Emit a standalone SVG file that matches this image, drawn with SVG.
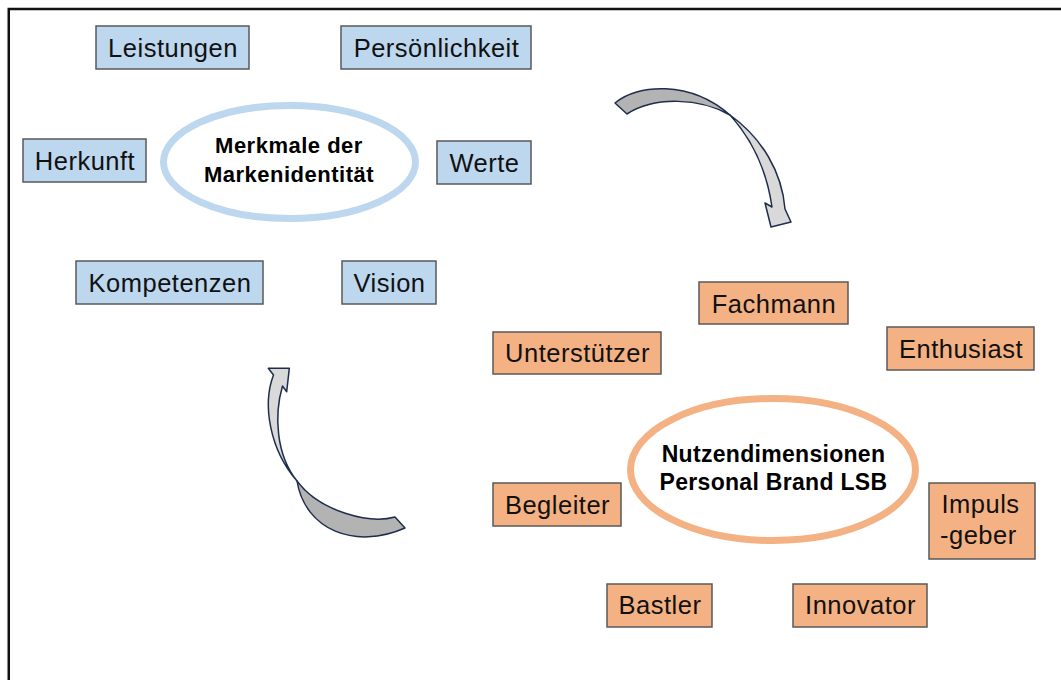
<svg xmlns="http://www.w3.org/2000/svg" width="1061" height="680" viewBox="0 0 1061 680">
<style>
.bg{fill:#ffffff}
.frame{fill:none;stroke:#111111;stroke-width:2.5}
.bbox{fill:#bdd7ee;stroke:#595959;stroke-width:1.5}
.obox{fill:#f4b183;stroke:#595959;stroke-width:1.5}
.lbl{font-family:"Liberation Sans",Arial,sans-serif;font-size:25.5px;letter-spacing:0.5px;fill:#111111;text-anchor:middle}
.lbl2{font-family:"Liberation Sans",Arial,sans-serif;font-size:25.5px;letter-spacing:0.5px;fill:#111111}
.ttl{font-family:"Liberation Sans",Arial,sans-serif;font-weight:bold;fill:#000000;text-anchor:middle}
.arrA{fill:#b3b3b3;stroke:#1f2d4d;stroke-width:1.5;stroke-linejoin:round}
.arrB{fill:#d9d9d9;stroke:#1f2d4d;stroke-width:1.5;stroke-linejoin:round}
</style>
<rect class="bg" x="0" y="0" width="1061" height="680"/>
<rect class="frame" x="8.75" y="9" width="1100" height="720"/>

<g id="connectors">
  <g id="arrow-top">
    <path class="arrA" d="M615,103 C637,84 690,80 730,115 C700,98 655,96 627,114 Z"/>
    <path class="arrB" d="M730,115 C762,138 782,172 785,209 L791,222 L771,227 L765,203 L772,207 C766,165 748,135 730,115 Z"/>
  </g>
  <g id="arrow-bottom">
    <path class="arrA" d="M395,517 C370,524 320,512 297,481 C305,530 355,550 405,528 Z"/>
    <path class="arrB" d="M297,481 C270,450 262,405 273.5,375 L268.3,368.3 L289.3,368.3 L286.7,391.7 L282.5,386 C274,415 276,455 297,481 Z"/>
  </g>
</g>

<g id="center-blue">
  <ellipse cx="289.5" cy="162" rx="126" ry="56.5" fill="#ffffff" stroke="#bdd7ee" stroke-width="7"/>
  <text class="ttl" x="289" y="153" font-size="22" letter-spacing="0.5">Merkmale der</text>
  <text class="ttl" x="289" y="182" font-size="22" letter-spacing="0.5">Markenidentität</text>
</g>

<g id="center-orange">
  <ellipse cx="773" cy="469.5" rx="142.5" ry="71" fill="#ffffff" stroke="#f4b183" stroke-width="7"/>
  <text class="ttl" x="773.5" y="462" font-size="23" letter-spacing="0.3">Nutzendimensionen</text>
  <text class="ttl" x="773.5" y="490" font-size="23" letter-spacing="0.3">Personal Brand LSB</text>
</g>

<g id="leistungen"><rect class="bbox" x="96" y="26" width="153" height="43"/><text class="lbl" x="173" y="56.5">Leistungen</text></g>
<g id="persoenlichkeit"><rect class="bbox" x="341" y="26" width="190" height="43"/><text class="lbl" x="436.5" y="56.5">Persönlichkeit</text></g>
<g id="herkunft"><rect class="bbox" x="23" y="139" width="123" height="43"/><text class="lbl" x="85" y="170">Herkunft</text></g>
<g id="werte"><rect class="bbox" x="437" y="141" width="94" height="43"/><text class="lbl" x="484.5" y="172">Werte</text></g>
<g id="kompetenzen"><rect class="bbox" x="76" y="261" width="187" height="43"/><text class="lbl" x="170" y="292">Kompetenzen</text></g>
<g id="vision"><rect class="bbox" x="342" y="261" width="94" height="43"/><text class="lbl" x="389.5" y="292">Vision</text></g>

<g id="fachmann"><rect class="obox" x="699" y="282" width="149" height="42"/><text class="lbl" x="774" y="312.5">Fachmann</text></g>
<g id="unterstuetzer"><rect class="obox" x="493" y="332" width="168" height="42"/><text class="lbl" x="577.5" y="362">Unterstützer</text></g>
<g id="enthusiast"><rect class="obox" x="887" y="327" width="147" height="43"/><text class="lbl" x="961" y="358">Enthusiast</text></g>
<g id="begleiter"><rect class="obox" x="493" y="483" width="128" height="43"/><text class="lbl" x="557.5" y="513.5">Begleiter</text></g>
<g id="impulsgeber"><rect class="obox" x="929" y="483" width="106" height="76"/><text class="lbl2" x="941.5" y="513">Impuls</text><text class="lbl2" x="940" y="544">-geber</text></g>
<g id="bastler"><rect class="obox" x="607" y="584" width="105" height="43"/><text class="lbl" x="660" y="614">Bastler</text></g>
<g id="innovator"><rect class="obox" x="793" y="584" width="134" height="43"/><text class="lbl" x="860.5" y="614">Innovator</text></g>
</svg>
